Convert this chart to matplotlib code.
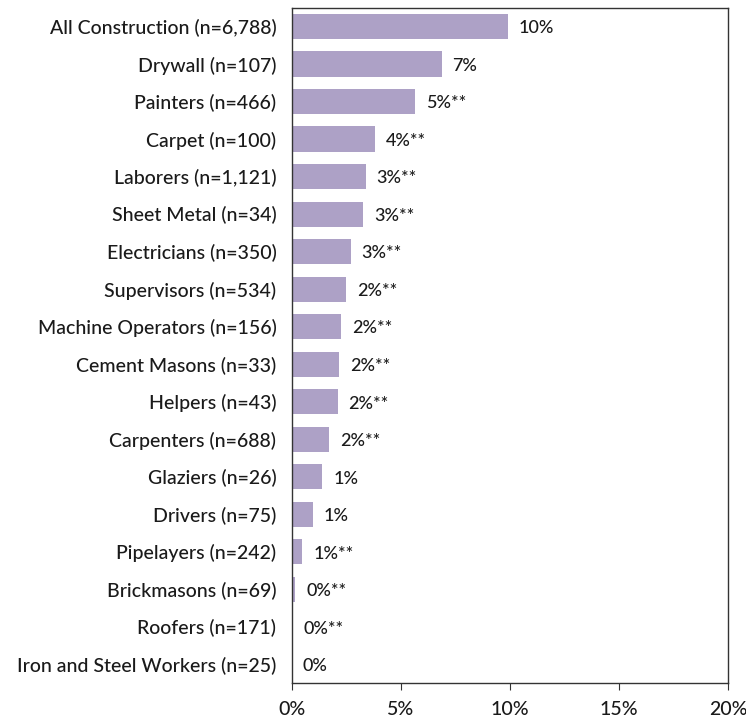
import matplotlib.pyplot as plt
import numpy as np

plt.rcParams["font.family"] = ["Lato", "DejaVu Sans"]

categories = [
    "All Construction (n=6,788)",
    "Drywall (n=107)",
    "Painters (n=466)",
    "Carpet (n=100)",
    "Laborers (n=1,121)",
    "Sheet Metal (n=34)",
    "Electricians (n=350)",
    "Supervisors (n=534)",
    "Machine Operators (n=156)",
    "Cement Masons (n=33)",
    "Helpers (n=43)",
    "Carpenters (n=688)",
    "Glaziers (n=26)",
    "Drivers (n=75)",
    "Pipelayers (n=242)",
    "Brickmasons (n=69)",
    "Roofers (n=171)",
    "Iron and Steel Workers (n=25)",
]
values = [9.9, 6.87, 5.64, 3.81, 3.39, 3.27, 2.71, 2.51, 2.25, 2.17, 2.1,
          1.71, 1.41, 0.98, 0.49, 0.17, 0.06, 0.0]
value_labels = ["10%", "7%", "5%**", "4%**", "3%**", "3%**", "3%**", "2%**",
                "2%**", "2%**", "2%**", "2%**", "1%", "1%", "1%**", "0%**",
                "0%**", "0%"]
x_ticks = [0, 5, 10, 15, 20]

fig = plt.figure(figsize=(7.46, 7.23), dpi=100)
ax = fig.add_axes([0.391, 0.0553, 0.585, 0.934])

y = np.arange(len(categories))
ax.barh(y, values, height=0.67, color="#ada1c6", edgecolor="none")
for yi, v, lab in zip(y, values, value_labels):
    ax.text(v + 0.5, yi + 0.05, lab, va="center", ha="left", fontsize=13,
            fontweight="medium", color="#1a1a1a")

ax.set_ylim(len(categories) - 0.5, -0.5)
ax.set_yticks(y)
ax.set_yticklabels(categories, fontsize=14, fontweight="medium", color="#1a1a1a")
ax.tick_params(axis="y", length=0, pad=11)

ax.set_xlim(0, 20)
ax.set_xticks(x_ticks)
ax.set_xticklabels([f"{t}%" for t in x_ticks], fontsize=14, fontweight="medium",
                   color="#1a1a1a")
ax.tick_params(axis="x", direction="out", length=5, color="#333333", pad=8)

for side in ["top", "right", "bottom", "left"]:
    ax.spines[side].set_color("#333333")
    ax.spines[side].set_linewidth(1.0)

fig.savefig("out.png", dpi=100)
